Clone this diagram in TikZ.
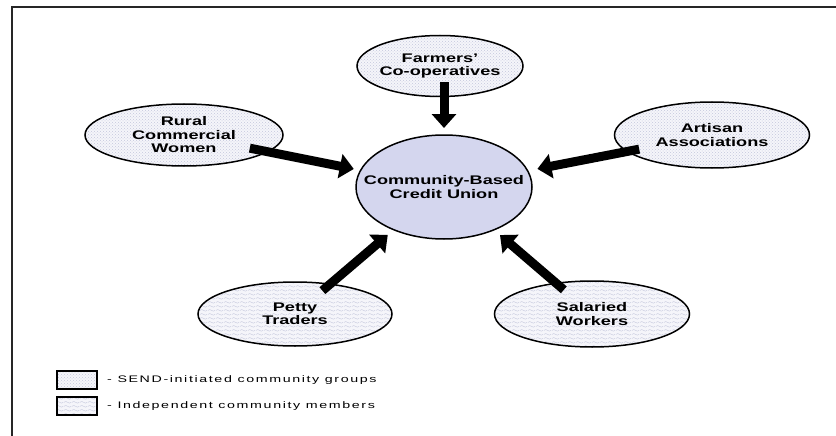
\documentclass[tikz,border=0pt]{standalone}
\usepackage{fontspec}
\setmainfont{Liberation Sans}[FakeStretch=1.45]
\newfontfamily\keyfont{Liberation Sans}[FakeStretch=1.5,LetterSpace=17]
\usepackage{tikz}
\usetikzlibrary{patterns,shapes.geometric,arrows.meta,positioning}
\usepackage{xcolor}

\definecolor{unionblue}{RGB}{212,214,238}
\definecolor{groupbg}{RGB}{245,245,250}
\definecolor{groupdot}{RGB}{196,199,220}

% wavy texture for the independent members
\pgfdeclarepatternformonly{waves}{\pgfqpoint{0pt}{0pt}}{\pgfqpoint{8pt}{4pt}}{\pgfqpoint{8pt}{4pt}}{%
  \pgfsetlinewidth{0.5pt}
  \pgfpathmoveto{\pgfqpoint{0pt}{2pt}}
  \pgfpathcurveto{\pgfqpoint{1.3pt}{3.3pt}}{\pgfqpoint{2.7pt}{3.3pt}}{\pgfqpoint{4pt}{2pt}}
  \pgfpathcurveto{\pgfqpoint{5.3pt}{0.7pt}}{\pgfqpoint{6.7pt}{0.7pt}}{\pgfqpoint{8pt}{2pt}}
  \pgfusepath{stroke}
}

\tikzset{
  group/.style={ellipse, draw=black, line width=1.5pt, inner xsep=-15pt, inner ysep=0pt,
    outer sep=0pt, align=center, font=\bfseries\fontsize{12.5}{13.5}\selectfont,
    preaction={fill=groupbg}, pattern color=groupdot, minimum width=196pt, minimum height=64pt},
  sendgrp/.style={group, pattern=crosshatch dots},
  indepgrp/.style={group, pattern=waves},
  keybox/.style={draw=black, line width=2pt, minimum width=40pt, minimum height=18pt,
    preaction={fill=groupbg}, pattern color=groupdot},
  keytext/.style={inner sep=0pt, font=\keyfont\fontsize{9.5}{11}\selectfont},
  flow/.style={line width=9pt, -{Triangle[width=24pt,length=14pt]}},
}

\begin{document}
\begin{tikzpicture}[x=1pt, y=-1pt]
\useasboundingbox (0,0) rectangle (836,436);
\draw[line width=2pt, black!85] (12,436) -- (12,7) -- (836,7);

% credit union in the middle
\node[ellipse, draw=black, line width=1.5pt, fill=unionblue, inner xsep=-30pt, inner ysep=0pt,
  outer sep=0pt, minimum width=176pt, minimum height=104pt, align=center,
  font=\bfseries\fontsize{12.5}{13.5}\selectfont] (cbcu) at (444,187) {Community-Based\\Credit Union};

% member groups
\node[sendgrp, minimum width=166pt, minimum height=61pt] (farm) at (440,66) {Farmers'\\Co-operatives};
\node[sendgrp, minimum width=198pt, minimum height=62pt] (rural) at (184,135) {Rural\\Commercial\\Women};
\node[sendgrp, minimum width=195pt, minimum height=66pt] (artisan) at (712,135) {Artisan\\Associations};
\node[indepgrp, minimum width=194pt, minimum height=64pt] (petty) at (295,314) {Petty\\Traders};
\node[indepgrp, minimum width=195pt, minimum height=66pt] (salary) at (592,314) {Salaried\\Workers};

% arrows into the union
\draw[flow, shorten <=-14pt, shorten >=7pt] (farm.south -| cbcu.north) -- (cbcu.north);
\draw[flow, shorten <=-18pt, shorten >=7pt] (rural) -- (cbcu);
\draw[flow, shorten <=-12pt, shorten >=10pt] (artisan) -- (cbcu);
\draw[flow, shorten <=-10pt, shorten >=8pt] (petty) -- (cbcu);
\draw[flow, shorten <=-10pt, shorten >=8pt] (salary) -- (cbcu);

% legend
\node[keybox, pattern=crosshatch dots] (keysend) at (77,380) {};
\node[keytext, right=9pt of keysend] (keysendtxt) {- SEND-initiated community groups};
\node[keybox, pattern=waves] (keyindep) at (77,406) {};
\node[keytext, right=9pt of keyindep] (keyindeptxt) {- Independent community members};
\end{tikzpicture}
\end{document}
